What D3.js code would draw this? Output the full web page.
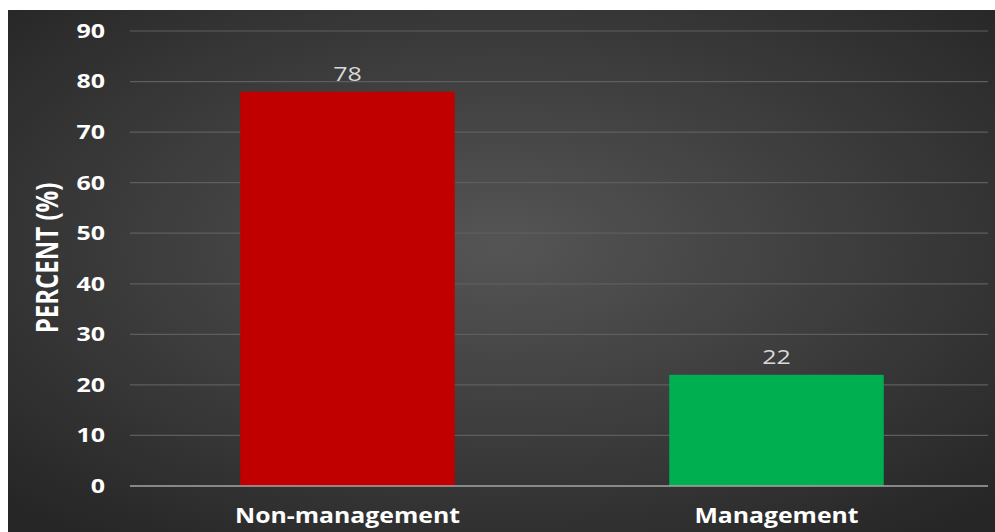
<!DOCTYPE html>
<html><head><meta charset="utf-8">
<script src="https://cdn.jsdelivr.net/npm/d3@7"></script>
<style>html,body{margin:0;padding:0;background:#fff;}svg{display:block;}</style>
</head><body>
<script>
const categories = ["Non-management", "Management"];
const values = [78, 22];
const colors = ["#c00000", "#00b050"];
const yTicks = [0, 10, 20, 30, 40, 50, 60, 70, 80, 90];

(function () {
const W = 995, H = 532;
const svg = d3.select("body").append("svg").attr("width", W).attr("height", H);
const defs = svg.append("defs");
const grad = defs.append("radialGradient").attr("id", "bg")
  .attr("cx", "50%").attr("cy", "45%").attr("r", "70%");
grad.append("stop").attr("offset", "0%").attr("stop-color", "#555555");
grad.append("stop").attr("offset", "100%").attr("stop-color", "#262626");
svg.append("rect").attr("x", 8).attr("y", 10).attr("width", W - 8).attr("height", H - 10).attr("fill", "url(#bg)");

const mLeft = 130, mRight = 988, mTop = 31, mBottom = 486;
const x = d3.scaleBand().domain(categories).range([mLeft + 3, mRight + 3]).paddingInner(0.5).paddingOuter(0.25);
const y = d3.scaleLinear().domain([0, 90]).range([mBottom, mTop]);

const font = "'Open Sans', sans-serif";

// gridlines
svg.append("g").selectAll("line").data(yTicks.filter(d => d > 0)).join("line")
  .attr("x1", mLeft).attr("x2", mRight)
  .attr("y1", d => y(d)).attr("y2", d => y(d))
  .attr("stroke", "#5e5e5e").attr("stroke-width", 1.2);

// y axis labels
const yAxis = d3.axisLeft(y).tickValues(yTicks).tickSize(0).tickPadding(0);
const gy = svg.append("g").attr("transform", `translate(${105},0)`).call(yAxis);
gy.select(".domain").remove();
gy.selectAll("text").attr("fill", "#fff").attr("font-family", font)
  .attr("font-weight", "bold").attr("font-size", 20)
  .attr("transform", "scale(1.25,1)");

// bars
svg.append("g").selectAll("rect").data(values).join("rect")
  .attr("x", (d, i) => x(categories[i]))
  .attr("width", x.bandwidth())
  .attr("y", d => y(d))
  .attr("height", d => y(0) - y(d))
  .attr("fill", (d, i) => colors[i]);

// zero line
svg.append("line").attr("x1", mLeft).attr("x2", mRight).attr("y1", y(0)).attr("y2", y(0))
  .attr("stroke", "#a6a6a6").attr("stroke-width", 1.5);

// value labels
svg.append("g").selectAll("text").data(values).join("text")
  .attr("transform", (d, i) => `translate(${x(categories[i]) + x.bandwidth() / 2},${y(d) - 11}) scale(1.25,1)`)
  .attr("text-anchor", "middle")
  .attr("fill", "#d9d9d9").attr("font-family", font).attr("font-size", 20)
  .text(d => d);

// x axis labels
const xAxis = d3.axisBottom(x).tickSize(0).tickPadding(0);
const gx = svg.append("g").attr("transform", `translate(0,${mBottom + 37})`).call(xAxis);
gx.select(".domain").remove();
gx.selectAll("text").attr("fill", "#fff").attr("font-family", font)
  .attr("font-weight", "bold").attr("font-size", 21).attr("dy", "0").attr("y", 0)
  .attr("transform", "scale(1.18,1)");

// y title
svg.append("text")
  .attr("transform", `translate(58,${258}) scale(1.25,1) rotate(-90)`)
  .attr("text-anchor", "middle")
  .attr("fill", "#fff").attr("font-family", font).attr("font-weight", "bold").attr("font-size", 24)
  .text("PERCENT (%)");
})();
</script>
</body></html>
